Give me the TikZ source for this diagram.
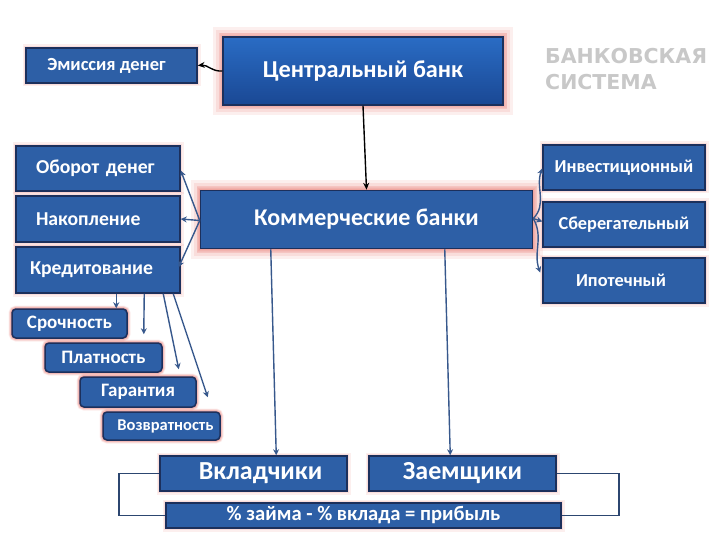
\documentclass[tikz,border=0pt]{standalone}
\usepackage{fontspec}
\setmainfont{Carlito}
\newfontfamily\titlefont{DejaVu Sans}
\usetikzlibrary{arrows.meta,calc}
\definecolor{boxfill}{RGB}{45,95,166}
\definecolor{boxline}{RGB}{28,48,92}
\definecolor{glowc}{RGB}{232,125,118}
\definecolor{topblue}{RGB}{42,108,196}
\definecolor{botblue}{RGB}{26,72,148}
\definecolor{arrblue}{RGB}{55,88,140}
\definecolor{titlegray}{RGB}{200,200,200}
\tikzset{
  glow/.style={preaction={draw=glowc,line width=#1,opacity=0.12},
               preaction={draw=glowc,line width=#1*0.7,opacity=0.16},
               preaction={draw=glowc,line width=#1*0.4,opacity=0.25}},
  box/.style={draw=boxline,line width=1.5pt,fill=boxfill,text=white,
              font=\bfseries,inner sep=0pt,glow=7pt},
  bigbox/.style={box,glow=20pt},
  smallbox/.style={box,rounded corners=4pt,glow=6pt},
  blarr/.style={draw=arrblue,line width=1.4pt,-{Stealth[length=6pt,width=6pt,open]}},
  bkarr/.style={draw=black,line width=1.4pt,-{Stealth[length=7pt,width=6pt,open]}},
  brack/.style={draw=arrblue!80!black,line width=1.5pt},
}
\begin{document}
\begin{tikzpicture}[x=1pt,y=-1pt]
\useasboundingbox (0,0) rectangle (720,540);
% central bank
\node[bigbox,top color=topblue,bottom color=botblue,minimum width=280,minimum height=68,
  font=\bfseries\fontsize{24.3}{28}\selectfont] (cb) at (363,71) {Центральный банк};
\node[box,minimum width=171,minimum height=35,font=\bfseries\fontsize{18.5}{22}\selectfont] (em) at (111.5,65.5) {\hspace*{-10pt}Эмиссия денег};
\node[bigbox,minimum width=332,minimum height=58,font=\bfseries\fontsize{24}{28}\selectfont] (kb) at (366.5,219.5) {Коммерческие банки};
% left boxes
\node[box,minimum width=164,minimum height=45,font=\bfseries\fontsize{19.7}{23}\selectfont,text width=124,align=left] (ob) at (98,168.5) {\raisebox{-3pt}{Оборот денег}};
\node[box,minimum width=164,minimum height=46,font=\bfseries\fontsize{19.7}{23}\selectfont,text width=124,align=left] (nk) at (98,219) {Накопление};
\node[box,minimum width=164,minimum height=46,font=\bfseries\fontsize{19.7}{23}\selectfont,text width=136,align=left] (kr) at (98,270) {Кредитование};
% right boxes
\node[box,minimum width=162,minimum height=45,font=\bfseries\fontsize{18.3}{22}\selectfont] (inv) at (624,167.5) {Инвестиционный};
\node[box,minimum width=162,minimum height=45,font=\bfseries\fontsize{18.3}{22}\selectfont] (sb) at (624,224.5) {Сберегательный};
\node[box,minimum width=162,minimum height=45,font=\bfseries\fontsize{18.3}{22}\selectfont] (ip) at (624,280.5) {\hspace*{-6pt}Ипотечный};
% small boxes
\node[smallbox,minimum width=115,minimum height=29,font=\bfseries\fontsize{19}{22}\selectfont] (sr) at (69.5,323.5) {Срочность};
\node[smallbox,minimum width=117,minimum height=29,font=\bfseries\fontsize{19}{22}\selectfont] (pl) at (103.5,357.5) {Платность};
\node[smallbox,minimum width=116,minimum height=30,font=\bfseries\fontsize{19}{22}\selectfont] (gr) at (138,392) {Гарантия};
\node[smallbox,minimum width=117,minimum height=28,font=\bfseries\fontsize{16.5}{19}\selectfont] (vz) at (161.5,426) {\hspace*{8pt}Возвратность};
% bottom boxes
\node[box,minimum width=187,minimum height=35,font=\bfseries\fontsize{26}{30}\selectfont] (vk) at (253.5,473.5) {\hspace*{14pt}Вкладчики};
\node[box,minimum width=187,minimum height=35,font=\bfseries\fontsize{26}{30}\selectfont] (zm) at (462.5,473.5) {Заемщики};
\node[box,minimum width=395,minimum height=25,font=\bfseries\fontsize{20.6}{24}\selectfont] (pr) at (363.5,515.5) {\% займа - \% вклада = прибыль};
% title
\node[text=titlegray,font=\titlefont\bfseries\fontsize{20.5}{26}\selectfont,align=left,anchor=north west,inner sep=0pt] (tt) at (545,48) {БАНКОВСКАЯ\\СИСТЕМА};
% connectors
\draw[bkarr] (cb.west) to[out=185,in=5] (em.east);
\draw[bkarr] (cb.south) -- (kb.north);
\coordinate (kbl) at ($(kb.west)+(0,1)$);
\coordinate (kbr) at ($(kb.east)+(0,-1)$);
\draw[blarr] (kbl) -- ($(ob.east)+(0,2)$);
\draw[blarr] (kbl) -- (nk.east);
\draw[blarr] (kbl) -- ($(kr.east)+(-2,-3)$);
\draw[blarr] (kbr) to[out=45,in=250] ($(inv.west)+(0,1)$);
\draw[blarr] (kbr) -- ($(sb.west)+(0,-3)$);
\draw[blarr] (kbr) to[out=-60,in=110] ($(ip.west)+(-2,-8)$);
\coordinate (k1) at ($(kr.south west)+(101,0)$);
\coordinate (k2) at ($(kr.south west)+(129,0)$);
\coordinate (k3) at ($(kr.south west)+(148,0)$);
\coordinate (k4) at ($(kr.south west)+(158,0)$);
\draw[blarr] (k1) -- (k1 |- sr.north);
\draw[blarr] (k2) -- ($(pl.north east)+(-19,-8)$);
\draw[blarr] (k3) -- ($(gr.north east)+(-18,-7)$);
\draw[blarr] (k4) -- ($(vz.north east)+(-13,-14)$);
\draw[blarr] ($(kb.south west)+(71,0)$) -- ($(vk.north west)+(117,0)$);
\draw[blarr] ($(kb.south west)+(245,0)$) -- ($(zm.north west)+(82,0)$);
\draw[brack] (vk.west) -| (119,515.5) -- (pr.west);
\draw[brack] (zm.east) -| (619,515.5) -- (pr.east);
\end{tikzpicture}
\end{document}
